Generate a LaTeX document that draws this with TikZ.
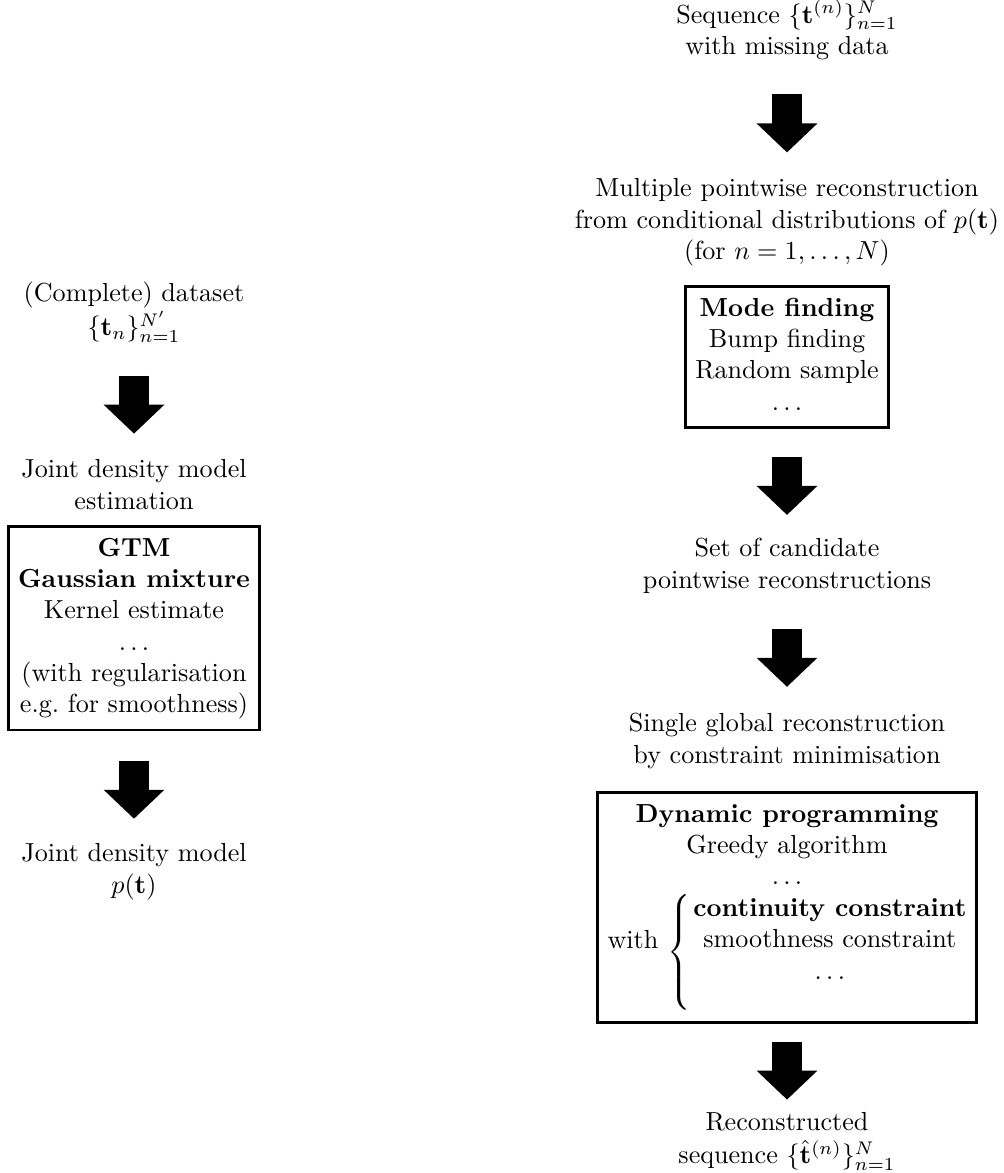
\documentclass[tikz,border=0pt]{standalone}
\usepackage{graphicx}
\usetikzlibrary{arrows.meta,calc}
\newcommand\ctab[1]{\begin{tabular}{@{}c@{}}#1\end{tabular}}
\newcommand\dts{$\dots$}
\newcommand\bigbrace{\raisebox{-4.17pt}{\scalebox{1}[1.057]{$\left\{\vrule height 23pt depth 18pt width 0pt\right.$}}}
\begin{document}
\begin{tikzpicture}[x=0.3831pt,y=-0.3831pt,
  txt/.style={inner sep=0pt, outer sep=0pt, anchor=north},
  boxed/.style={draw, line width=1.1pt, inner xsep=3.8pt, inner ysep=3pt, anchor=north},
  bigarrow/.style={line width=11.5pt, -{Triangle[width=22.6pt,length=11.1pt]}}]
\useasboundingbox (0,0) rectangle (1003,1173);
% right column
\node[txt] (seq) at (787,0) {\ctab{Sequence $\{\mathbf{t}^{(n)}\}_{n=1}^N$\\ with missing data}};
\node[txt] (multi) at (787,175) {\ctab{Multiple pointwise reconstruction\\ from conditional distributions of $p(\mathbf{t})$\\ (for $n=1,\dots,N$)}};
\node[boxed] (mode) at (787,285) {\ctab{\textbf{Mode finding}\\ Bump finding\\ Random sample\\ \dts}};
\node[txt] (cand) at (787,535) {\ctab{Set of candidate\\ pointwise reconstructions}};
\node[txt] (single) at (787,710) {\ctab{Single global reconstruction\\ by constraint minimisation}};
\node[boxed] (dp) at (787,791) {\ctab{\textbf{Dynamic programming}\\ Greedy algorithm\\ \dts\\ with \bigbrace\ctab{\textbf{continuity constraint}\\ smoothness constraint\\ \dts}\rule[-25.6pt]{0pt}{1pt}}};
\node[txt] (recon) at (787,1109) {\ctab{Reconstructed\\ sequence $\{\hat{\mathbf{t}}^{(n)}\}_{n=1}^N$}};
% left column
\node[txt] (data) at (134,280) {\ctab{(Complete) dataset\\ $\{\mathbf{t}_n\}_{n=1}^{N'}$}};
\node[txt] (est) at (134,456) {\ctab{Joint density model\\ estimation}};
\node[boxed] (gtm) at (134,525) {\ctab{\textbf{GTM}\\ \textbf{Gaussian mixture}\\ Kernel estimate\\ \dts\\ (with regularisation\\ e.g.\ for smoothness)}};
\node[txt] (model) at (134,840) {\ctab{Joint density model\\ $p(\mathbf{t})$}};
% arrows
\foreach \a/\b in {seq/multi, mode/cand, cand/single, dp/recon, data/est, gtm/model}
  \draw[bigarrow] ($(\a.south)!0.5!(\b.north)+(0,-25)$) -- ($(\a.south)!0.5!(\b.north)+(0,33)$);
\end{tikzpicture}
\end{document}
